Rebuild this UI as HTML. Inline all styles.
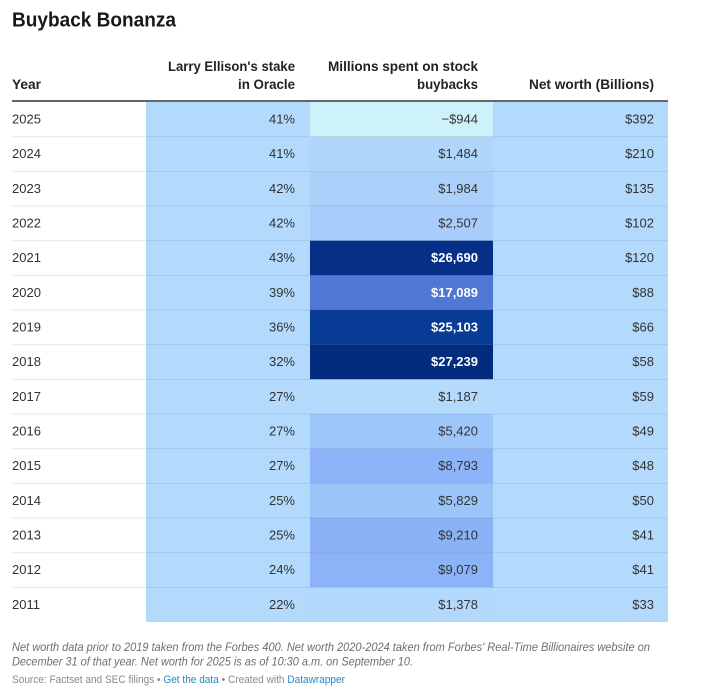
<!DOCTYPE html>
<html><head><meta charset="utf-8"><style>
html,body{margin:0;padding:0;background:#fff;}
svg{display:block;}
text{font-family:"Liberation Sans",Arial,sans-serif;}
</style></head><body>
<svg width="728" height="692" viewBox="0 0 728 692" xmlns="http://www.w3.org/2000/svg">
<rect width="728" height="692" fill="#fff"/>
<text x="12" y="26.5" font-size="20" font-weight="bold" fill="#181818" textLength="164" lengthAdjust="spacingAndGlyphs">Buyback Bonanza</text>

<g font-size="13.5" font-weight="bold" fill="#222">
<text x="12" y="89" textLength="29" lengthAdjust="spacingAndGlyphs">Year</text>
<text x="295" y="71" text-anchor="end" textLength="127" lengthAdjust="spacingAndGlyphs">Larry Ellison's stake</text>
<text x="295" y="89" text-anchor="end" textLength="57" lengthAdjust="spacingAndGlyphs">in Oracle</text>
<text x="478" y="71" text-anchor="end" textLength="150" lengthAdjust="spacingAndGlyphs">Millions spent on stock</text>
<text x="478" y="89" text-anchor="end" textLength="61" lengthAdjust="spacingAndGlyphs">buybacks</text>
<text x="654" y="89" text-anchor="end" textLength="125" lengthAdjust="spacingAndGlyphs">Net worth (Billions)</text>
</g>

<!-- column backgrounds -->
<rect x="146" y="102" width="164" height="520" fill="#b3d9fc"/>
<rect x="493" y="102" width="175" height="520" fill="#b3d9fc"/>

<!-- col3 cells -->
<rect x="310" y="102" width="183" height="34.67" fill="#cdf2fa"/>
<rect x="310" y="136.67" width="183" height="34.67" fill="#b1d6fb"/>
<rect x="310" y="171.33" width="183" height="34.67" fill="#abd1fb"/>
<rect x="310" y="206" width="183" height="34.67" fill="#a9cdfa"/>
<rect x="310" y="240.67" width="183" height="34.67" fill="#063088"/>
<rect x="310" y="275.33" width="183" height="34.67" fill="#4e78d4"/>
<rect x="310" y="310" width="183" height="34.67" fill="#083b96"/>
<rect x="310" y="344.67" width="183" height="34.67" fill="#032b7e"/>
<rect x="310" y="379.33" width="183" height="34.67" fill="#b4dafc"/>
<rect x="310" y="414" width="183" height="34.67" fill="#9dc7fa"/>
<rect x="310" y="448.67" width="183" height="34.67" fill="#8db3f8"/>
<rect x="310" y="483.33" width="183" height="34.67" fill="#9bc5f9"/>
<rect x="310" y="518" width="183" height="34.67" fill="#8bb1f7"/>
<rect x="310" y="552.67" width="183" height="34.67" fill="#8cb2f7"/>
<rect x="310" y="587.33" width="183" height="34.67" fill="#b2d8fc"/>

<!-- separators -->
<g stroke="rgba(0,20,60,0.09)" stroke-width="1">
<line x1="12" x2="668" y1="136.67" y2="136.67"/>
<line x1="12" x2="668" y1="171.33" y2="171.33"/>
<line x1="12" x2="668" y1="206" y2="206"/>
<line x1="12" x2="668" y1="240.67" y2="240.67"/>
<line x1="12" x2="668" y1="275.33" y2="275.33"/>
<line x1="12" x2="668" y1="310" y2="310"/>
<line x1="12" x2="668" y1="344.67" y2="344.67"/>
<line x1="12" x2="668" y1="379.33" y2="379.33"/>
<line x1="12" x2="668" y1="414" y2="414"/>
<line x1="12" x2="668" y1="448.67" y2="448.67"/>
<line x1="12" x2="668" y1="483.33" y2="483.33"/>
<line x1="12" x2="668" y1="518" y2="518"/>
<line x1="12" x2="668" y1="552.67" y2="552.67"/>
<line x1="12" x2="668" y1="587.33" y2="587.33"/>
</g>
<line x1="12" x2="668" y1="101" y2="101" stroke="#333" stroke-width="1.6"/>

<g font-size="13" fill="#333">
<!-- years -->
<text x="12" y="123.5">2025</text>
<text x="12" y="158.2">2024</text>
<text x="12" y="192.8">2023</text>
<text x="12" y="227.5">2022</text>
<text x="12" y="262.2">2021</text>
<text x="12" y="296.8">2020</text>
<text x="12" y="331.5">2019</text>
<text x="12" y="366.2">2018</text>
<text x="12" y="400.8">2017</text>
<text x="12" y="435.5">2016</text>
<text x="12" y="470.2">2015</text>
<text x="12" y="504.8">2014</text>
<text x="12" y="539.5">2013</text>
<text x="12" y="574.2">2012</text>
<text x="12" y="608.8">2011</text>
</g>
<g font-size="13" fill="#333" text-anchor="end">
<text x="295" y="123.5">41%</text>
<text x="295" y="158.2">41%</text>
<text x="295" y="192.8">42%</text>
<text x="295" y="227.5">42%</text>
<text x="295" y="262.2">43%</text>
<text x="295" y="296.8">39%</text>
<text x="295" y="331.5">36%</text>
<text x="295" y="366.2">32%</text>
<text x="295" y="400.8">27%</text>
<text x="295" y="435.5">27%</text>
<text x="295" y="470.2">27%</text>
<text x="295" y="504.8">25%</text>
<text x="295" y="539.5">25%</text>
<text x="295" y="574.2">24%</text>
<text x="295" y="608.8">22%</text>

<text x="478" y="123.5">−$944</text>
<text x="478" y="158.2">$1,484</text>
<text x="478" y="192.8">$1,984</text>
<text x="478" y="227.5">$2,507</text>
<text x="478" y="262.2" fill="#fff" font-weight="bold">$26,690</text>
<text x="478" y="296.8" fill="#fff" font-weight="bold">$17,089</text>
<text x="478" y="331.5" fill="#fff" font-weight="bold">$25,103</text>
<text x="478" y="366.2" fill="#fff" font-weight="bold">$27,239</text>
<text x="478" y="400.8">$1,187</text>
<text x="478" y="435.5">$5,420</text>
<text x="478" y="470.2">$8,793</text>
<text x="478" y="504.8">$5,829</text>
<text x="478" y="539.5">$9,210</text>
<text x="478" y="574.2">$9,079</text>
<text x="478" y="608.8">$1,378</text>

<text x="654" y="123.5">$392</text>
<text x="654" y="158.2">$210</text>
<text x="654" y="192.8">$135</text>
<text x="654" y="227.5">$102</text>
<text x="654" y="262.2">$120</text>
<text x="654" y="296.8">$88</text>
<text x="654" y="331.5">$66</text>
<text x="654" y="366.2">$58</text>
<text x="654" y="400.8">$59</text>
<text x="654" y="435.5">$49</text>
<text x="654" y="470.2">$48</text>
<text x="654" y="504.8">$50</text>
<text x="654" y="539.5">$41</text>
<text x="654" y="574.2">$41</text>
<text x="654" y="608.8">$33</text>
</g>

<g font-size="12" font-style="italic" fill="#6e6e6e">
<text x="12" y="651" textLength="638" lengthAdjust="spacingAndGlyphs">Net worth data prior to 2019 taken from the Forbes 400. Net worth 2020-2024 taken from Forbes' Real-Time Billionaires website on</text>
<text x="12" y="665.5" textLength="401" lengthAdjust="spacingAndGlyphs">December 31 of that year. Net worth for 2025 is as of 10:30 a.m. on September 10.</text>
</g>
<text x="12" y="683" font-size="11" fill="#8a8a8a" textLength="333" lengthAdjust="spacingAndGlyphs">Source: Factset and SEC filings • <tspan fill="#2a86bf">Get the data</tspan> • Created with <tspan fill="#2a86bf">Datawrapper</tspan></text>
</svg>
</body></html>
